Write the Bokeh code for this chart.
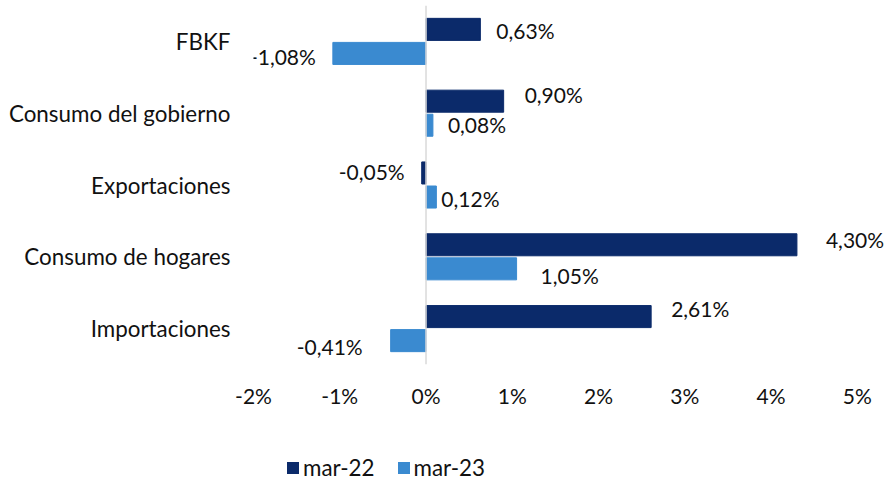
from bokeh.plotting import figure
from bokeh.layouts import column
from bokeh.models import (FactorRange, Range1d, Span, FixedTicker, CustomJSTickFormatter,
                          Legend, LegendItem, ColumnDataSource)
from bokeh.transform import dodge
from bokeh.core.properties import value
from bokeh.embed import file_html
from bokeh.resources import INLINE

# ---- data ----
categories = ["FBKF", "Consumo del gobierno", "Exportaciones", "Consumo de hogares", "Importaciones"]
mar22 = [0.63, 0.90, -0.05, 4.30, 2.61]
mar23 = [-1.08, 0.08, 0.12, 1.05, -0.41]
series_names = ["mar-22", "mar-23"]
x_ticks = [-2, -1, 0, 1, 2, 3, 4, 5]

# ---- label nudges (screen px) ----
dx22 = [16, 21, -17, 29, 20]
dy22 = [1, -7, -1, -5, -8]
dx23 = [-17, 15, 5, 24, -28]
dy23 = [3, -1, 1, 7, 6]

DARK = "#0B2A6A"
LIGHT = "#3A8AD0"
FONT = "Lato"
FS = "21px"
TXT = "#111111"


def fmt(v):
    return f"{v:.2f}".replace(".", ",") + "%"


def align(v):
    return "left" if v >= 0 else "right"


src22 = ColumnDataSource(dict(cat=categories, val=mar22, lab=[fmt(v) for v in mar22],
                              al=[align(v) for v in mar22], dx=dx22, dy=dy22))
src23 = ColumnDataSource(dict(cat=categories, val=mar23, lab=[fmt(v) for v in mar23],
                              al=[align(v) for v in mar23], dx=dx23, dy=dy23))

yr = FactorRange(factors=list(reversed(categories)), range_padding=0)

p = figure(width=887, height=417, y_range=yr, x_range=Range1d(-2, 5.35),
           output_backend="svg", toolbar_location=None,
           min_border_left=253, min_border_right=0, min_border_top=5, min_border_bottom=53)
p.outline_line_color = None
p.background_fill_color = "white"
p.border_fill_color = "white"
p.xgrid.visible = False
p.ygrid.visible = False

off = 0.1675
h = 0.307
r22 = p.hbar(y=dodge("cat", off, range=yr), left=0, right="val", height=h, source=src22,
             fill_color=DARK, line_color=DARK)
r23 = p.hbar(y=dodge("cat", -off, range=yr), left=0, right="val", height=h, source=src23,
             fill_color=LIGHT, line_color=LIGHT)

p.add_layout(Span(location=0, dimension="height", line_color="#D9D9D9", line_width=1.5))

for src, o in ((src22, off), (src23, -off)):
    p.text(x="val", y=dodge("cat", o, range=yr), text="lab", source=src,
           x_offset="dx", y_offset="dy", text_align="al", text_baseline="middle",
           text_font=value(FONT), text_font_size=FS, text_color=TXT)

# axes
xa = p.xaxis[0]
xa.ticker = FixedTicker(ticks=x_ticks)
xa.formatter = CustomJSTickFormatter(code="return tick + '%';")
xa.axis_line_color = None
xa.major_tick_line_color = None
xa.minor_tick_line_color = None
xa.major_label_standoff = 12
xa.major_label_text_font = FONT
xa.major_label_text_font_size = FS
xa.major_label_text_color = TXT

ya = p.yaxis[0]
ya.axis_line_color = None
ya.major_tick_line_color = None
ya.minor_tick_line_color = None
ya.major_label_standoff = 17
ya.major_label_text_font = FONT
ya.major_label_text_font_size = "22.4px"
ya.major_label_text_color = TXT

# legend strip below the chart (zero-size proxy glyphs carry the series colours)
lg = figure(width=887, height=64, x_range=Range1d(0, 1), y_range=Range1d(0, 1),
            output_backend="svg", toolbar_location=None,
            min_border_left=0, min_border_right=0, min_border_top=0, min_border_bottom=0)
lg.axis.visible = False
lg.xgrid.visible = False
lg.ygrid.visible = False
lg.outline_line_color = None
lg.border_fill_color = "white"
e22 = lg.hbar(y="val", left="val", right="val", height=0, source=src22,
              fill_color=DARK, line_color=None)
e23 = lg.hbar(y="val", left="val", right="val", height=0, source=src23,
              fill_color=LIGHT, line_color=None)

legend = Legend(items=[LegendItem(label=series_names[0], renderers=[e22]),
                       LegendItem(label=series_names[1], renderers=[e23])],
                orientation="horizontal", location=(32, 0),
                glyph_width=15, glyph_height=15, label_standoff=3, spacing=21,
                padding=0, margin=0, border_line_color=None,
                label_text_font=FONT, label_text_font_size="22.4px", label_text_color=TXT,
                background_fill_alpha=0)
lg.add_layout(legend, "center")

layout = column(p, lg, spacing=0)
open("out.html", "w").write(file_html(layout, INLINE))
